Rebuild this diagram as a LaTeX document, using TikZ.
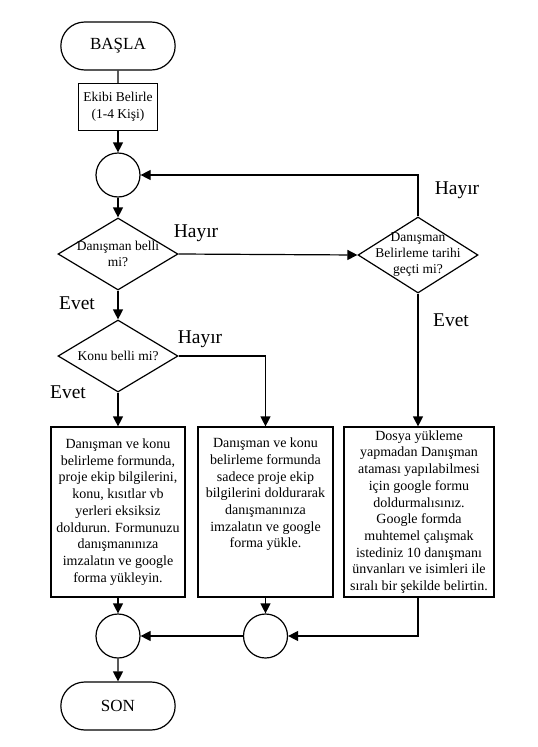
\documentclass[tikz,border=0pt]{standalone}
\usepackage{fontspec}
\setmainfont{Liberation Serif}
\usetikzlibrary{arrows.meta,positioning,shapes.geometric,shapes.misc}
\tikzset{
    term/.style={rounded rectangle, draw, minimum width=121pt, minimum height=48pt, font=\fontsize{17}{20}\selectfont},
    proc/.style={rectangle, draw, align=center, inner sep=0pt, font=\fontsize{14}{16.7}\selectfont},
    dec/.style={diamond, draw, inner sep=0pt, minimum width=120pt, minimum height=72pt},
    dtext/.style={align=center, inner sep=0pt, font=\fontsize{13.5}{16}\selectfont},
    btext/.style={align=center, inner sep=0pt, font=\fontsize{14}{16.7}\selectfont},
    junc/.style={circle, draw, inner sep=0pt, minimum size=44pt},
    ans/.style={font=\fontsize{19.5}{22}\selectfont},
    flow/.style={-{Triangle[length=10pt,width=10pt]}}
}

\begin{document}
\begin{tikzpicture}[x=1pt,y=-1pt,line width=1.2pt]
\useasboundingbox (0,0) rectangle (538,747);
% main column
\node[term] (basla) at (118,46) {BAŞLA};
\node[proc,minimum width=79pt,minimum height=47pt,font=\fontsize{13.5}{16.7}\selectfont] (ekip) at (118,107) {Ekibi Belirle\\(1-4 Kişi)};
\node[junc] (c1) at (118,175) {};
\node[dec,label={[dtext]center:Danışman belli\\mi?}] (d1) at (118,254) {};
\node[dec,minimum height=76pt,label={[dtext]center:Danışman\\Belirleme tarihi\\geçti mi?}] (d2) at (418,255) {};
\node[dec,label={[dtext]center:Konu belli mi?}] (d3) at (118,356) {};
% boxes
\node[proc,minimum width=134pt,minimum height=170pt] (b1) at (118,512) {Danışman ve konu\\belirleme formunda,\\proje ekip bilgilerini,\\konu, kısıtlar vb\\yerleri eksiksiz\\doldurun. Formunuzu\\danışmanınıza\\imzalatın ve google\\forma yükleyin.};
\node[proc,minimum width=135pt,minimum height=170pt,label={[btext,anchor=north,yshift=-11pt]north:Danışman ve konu\\belirleme formunda\\sadece proje ekip\\bilgilerini doldurarak\\danışmanınıza\\imzalatın ve google\\forma yükle.}] (b2) at (265.5,512) {};
\node[proc,minimum width=150pt,minimum height=170pt] (b3) at (419,512) {Dosya yükleme\\yapmadan Danışman\\ataması yapılabilmesi\\için google formu\\doldurmalısınız.\\Google formda\\muhtemel çalışmak\\istediniz 10 danışmanı\\ünvanları ve isimleri ile\\sıralı bir şekilde belirtin.};
\node[junc] (c2) at (118,636) {};
\node[junc] (c3) at (265.5,636) {};
\node[term] (son) at (118,706) {SON};
% answers
\node[ans] (h1) at (196,233) {Hayır};
\node[ans] (h2) at (457,190) {Hayır};
\node[ans] (h3) at (200,339) {Hayır};
\node[ans] (e1) at (77,303) {Evet};
\node[ans] (e2) at (451,320) {Evet};
\node[ans] (e3) at (68,392) {Evet};
% connectors
\draw (basla) -- (ekip);
\draw[flow] (ekip) -- (c1);
\draw[flow] (c1) -- (d1);
\draw[flow] (d1.east) -- (d2.west);
\draw[flow] (d2.north) |- (c1.east);
\draw[flow] (d2.south) -- (d2.south |- b3.north);
\draw[flow] (d1.south) -- (d3.north);
\draw[flow] (d3.south) -- (b1.north);
\draw[flow] (d3.east) -| (b2.north);
\draw[flow] (b1) -- (c2);
\draw[flow] (b2) -- (c3);
\draw[flow] (b3.south -| d2.south) |- (c3.east);
\draw[flow] (c3) -- (c2);
\draw[flow] (c2) -- (son);
\end{tikzpicture}
\end{document}
